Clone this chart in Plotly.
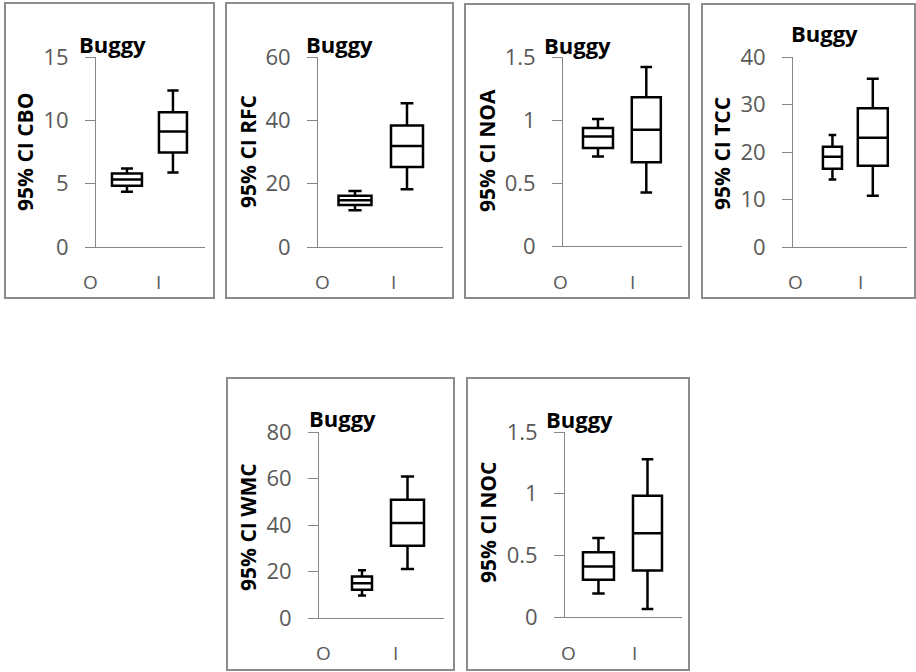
import plotly.graph_objects as go

W, H = 916, 672

# ---------------- data ----------------
metrics = ["CBO", "RFC", "NOA", "TCC", "WMC", "NOC"]
groups = ["O", "I"]
panel_title = "Buggy"

# per metric: [O, I]
lower_whisker = [[4.36, 5.89], [11.6, 18.2], [0.71, 0.424], [14.2, 10.8], [9.7, 21.1], [0.19, 0.065]]
q1_values     = [[4.83, 7.47], [13.3, 25.3], [0.777, 0.665], [16.5, 17.1], [12.2, 31.1], [0.303, 0.378]]
median_values = [[5.33, 9.11], [14.8, 31.9], [0.869, 0.922], [19.0, 23.0], [14.9, 40.9], [0.41, 0.68]]
q3_values     = [[5.8, 10.64], [16.2, 38.4], [0.936, 1.18], [21.1, 29.2], [17.8, 50.9], [0.524, 0.984]]
upper_whisker = [[6.2, 12.36], [17.7, 45.4], [1.007, 1.42], [23.6, 35.4], [20.5, 60.9], [0.64, 1.28]]

y_max = [15, 60, 1.5, 40, 80, 1.5]
y_dtick = [5, 20, 0.5, 10, 20, 0.5]

# ---------------- layout geometry (pixels) ----------------
borders = [(5, 3, 214, 298), (226, 3, 453, 298), (465, 4, 689, 298),
           (702, 4, 915, 298), (227, 378, 454, 670), (467, 378, 689, 670)]
plots = [(96, 205, 57, 247), (318, 443, 57, 247), (563, 682, 57, 246),
         (793, 907, 57, 247), (319, 444, 432, 618), (565, 682, 432, 617)]
box_pos = [(0.284, 0.706), (0.296, 0.712), (0.294, 0.70),
           (0.346, 0.70), (0.344, 0.708), (0.286, 0.705)]
box_w = [(0.275, 0.257), (0.264, 0.256), (0.252, 0.244),
         (0.167, 0.263), (0.16, 0.264), (0.265, 0.248)]
label_pos = [(-0.046, 0.569), (0.032, 0.60), (-0.017, 0.58),
             (0.026, 0.588), (0.032, 0.608), (0.026, 0.598)]
label_y = [282, 282, 282, 282, 653, 653]
title_xy = [(112, 44), (339, 44), (577, 45), (824, 33), (342, 418), (579, 419)]
ytitle_xy = [(25, 152), (248, 152), (487, 151), (722, 154), (248, 527), (488, 523)]

FONT = "Open Sans"
TICK_COLOR = "#595959"
AXIS_COLOR = "#868686"


def px(x):
    return x / W


def py(y):
    return 1 - y / H


fig = go.Figure()
shapes = []
annotations = []
layout_axes = {}

for i, m in enumerate(metrics):
    n = "" if i == 0 else str(i + 1)
    xa, ya = "x" + n, "y" + n
    x0, x1, yt, yb = plots[i]
    for g in range(2):
        fig.add_trace(go.Box(
            x=[box_pos[i][g]],
            q1=[q1_values[i][g]], median=[median_values[i][g]], q3=[q3_values[i][g]],
            lowerfence=[lower_whisker[i][g]], upperfence=[upper_whisker[i][g]],
            width=box_w[i][g], whiskerwidth=0.4,
            line=dict(color="black", width=2.5), fillcolor="white",
            boxpoints=False, showlegend=False, name=groups[g],
            xaxis=xa, yaxis=ya,
        ))
    layout_axes["xaxis" + n] = dict(
        domain=[px(x0), px(x1)], range=[0, 1], anchor=ya, automargin=False,
        showgrid=False, zeroline=False, showticklabels=False, ticks="",
        showline=True, linecolor=AXIS_COLOR, linewidth=1, fixedrange=True,
    )
    layout_axes["yaxis" + n] = dict(
        domain=[py(yb), py(yt)], range=[0, y_max[i]], dtick=y_dtick[i], anchor=xa,
        automargin=False,
        showgrid=False, zeroline=False, showline=True, linecolor=AXIS_COLOR, linewidth=1,
        ticks="outside", ticklen=10, tickcolor=AXIS_COLOR, tickwidth=1,
        ticklabelstandoff=12,
        tickfont=dict(family=FONT, size=22, color=TICK_COLOR), fixedrange=True,
    )
    bx0, by0, bx1, by1 = borders[i]
    shapes.append(dict(type="rect", xref="paper", yref="paper",
                       x0=px(bx0), x1=px(bx1), y0=py(by1), y1=py(by0),
                       line=dict(color="#8c8c8c", width=2), layer="below"))
    for g in range(2):
        annotations.append(dict(
            text=groups[g], xref=xa + " domain", yref="paper",
            x=label_pos[i][g], y=py(label_y[i]), xanchor="center", yanchor="middle",
            showarrow=False, font=dict(family=FONT, size=19, color=TICK_COLOR)))
    tx, ty = title_xy[i]
    annotations.append(dict(
        text="<b>" + panel_title + "</b>", xref="paper", yref="paper",
        x=px(tx), y=py(ty), xanchor="center", yanchor="middle", showarrow=False,
        font=dict(family=FONT, size=22, color="black")))
    yx, yy = ytitle_xy[i]
    annotations.append(dict(
        text="<b>95% CI " + m + "</b>", xref="paper", yref="paper",
        x=px(yx), y=py(yy), xanchor="center", yanchor="middle", showarrow=False,
        textangle=-90, font=dict(family=FONT, size=21, color="black")))

fig.update_layout(
    width=W, height=H, margin=dict(l=0, r=0, t=0, b=0, pad=0, autoexpand=False),
    paper_bgcolor="white", plot_bgcolor="rgba(0,0,0,0)",
    shapes=shapes, annotations=annotations, boxmode="overlay",
    showlegend=False, **layout_axes,
)

fig.write_html(
    "out.html",
    config={"displayModeBar": False},
    post_script=(
        "var d=document.getElementById('{plot_id}');"
        "d.style.position='fixed';d.style.left='0px';d.style.top='0px';"
        "document.body.style.margin='0';"
        "document.documentElement.style.overflow='hidden';"
    ),
)
